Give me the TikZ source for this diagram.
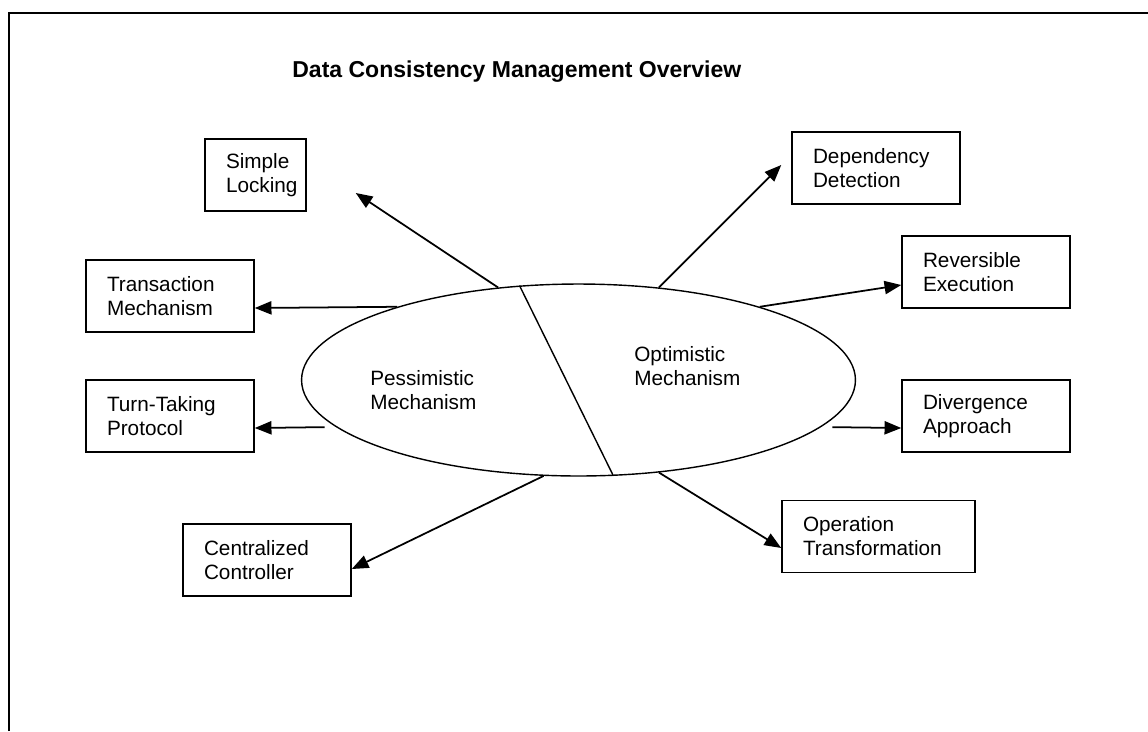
\documentclass[tikz,border=0pt]{standalone}
\usepackage{fontspec}
\setmainfont{Liberation Sans}
\usetikzlibrary{positioning,arrows.meta,shapes.geometric}
\tikzset{
  dcbox/.style={rectangle, draw=black, line width=0.9pt, minimum height=1.44cm,
                inner xsep=0.42cm, inner ysep=0pt, align=left,
                font=\fontsize{11.8}{13.7}\selectfont},
  dccore/.style={ellipse, draw=black, line width=0.8pt, minimum width=11.08cm,
                 minimum height=3.84cm, inner sep=0pt},
  dclab/.style={inner sep=0pt, anchor=north west, align=left,
                font=\fontsize{11.8}{13.7}\selectfont},
  dcarrow/.style={draw=black, line width=1pt, -{Triangle[length=9.5pt,width=7.5pt]}},
}

\begin{document}
\begin{tikzpicture}[x=0.02cm, y=-0.02cm]
  \useasboundingbox (0,0) rectangle (1148,731);
  % page frame
  \draw[line width=1.2pt] (9,731) -- (9,13) -- (1148,13);
  \node[anchor=base west, inner sep=0pt, font=\fontsize{13.1}{15}\selectfont\bfseries]
    (title) at (292,77) {Data Consistency Management Overview};

  % central ellipse, split in two
  \node[dccore] (core) at (578.5,380) {};
  \draw[line width=0.8pt] (core.122) -- (core.290);
  \node[dclab] (pes) at (370,370) {Pessimistic\\Mechanism};
  \node[dclab] (opt) at (634,346) {Optimistic\\Mechanism};

  % pessimistic side
  \node[dcbox, text width=1.18cm] (lock)  at (255.5,175) {Simple\\Locking};
  \node[dcbox, text width=2.52cm] (trans) at (170,296)   {Transaction\\Mechanism};
  \node[dcbox, text width=2.52cm] (turn)  at (170,416)   {Turn-Taking\\Protocol};
  \node[dcbox, text width=2.52cm] (ctrl)  at (267,560)   {Centralized\\Controller};

  % optimistic side
  \node[dcbox, text width=2.52cm] (dep) at (876,168)     {Dependency\\Detection};
  \node[dcbox, text width=2.52cm] (rev) at (986,272)     {Reversible\\Execution};
  \node[dcbox, text width=2.52cm] (div) at (986,416)     {Divergence\\Approach};
  \node[dcbox, text width=3.02cm] (op)  at (878.5,536.5) {Operation\\Transformation};

  \draw[dcarrow] (core.131) -- ([xshift=0.98cm,yshift=-0.36cm]lock.east);
  \draw[dcarrow] (core.158) -- ([yshift=-0.24cm]trans.east);
  \draw[dcarrow] ([xshift=-0.23cm]core.191) -- ([yshift=-0.24cm]turn.east);
  \draw[dcarrow] (core.250) -- ([yshift=-0.18cm]ctrl.east);

  \draw[dcarrow] (core.49) -- ([xshift=-0.2cm,yshift=0.06cm]dep.west);
  \draw[dcarrow] (core.22) -- ([yshift=-0.26cm]rev.west);
  \draw[dcarrow] ([xshift=0.23cm]core.349) -- ([yshift=-0.24cm]div.west);
  \draw[dcarrow] (core.311) -- ([yshift=-0.23cm]op.west);
\end{tikzpicture}
\end{document}
